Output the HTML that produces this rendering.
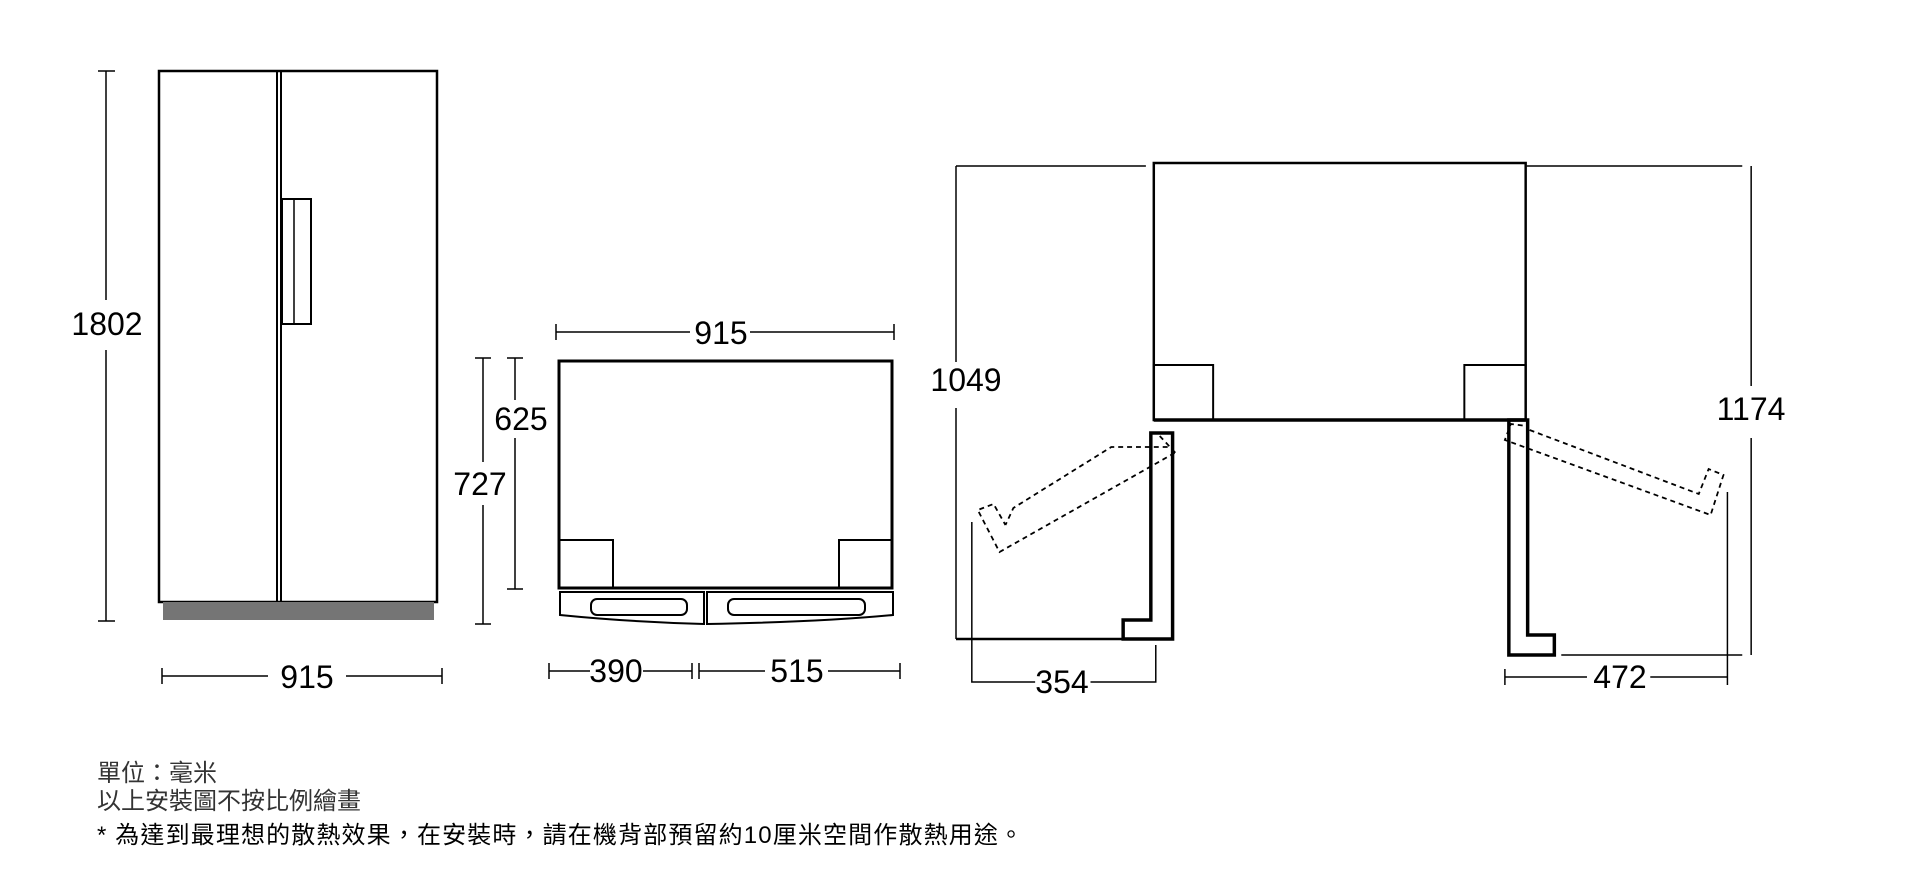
<!DOCTYPE html>
<html><head><meta charset="utf-8"><style>
html,body{margin:0;padding:0;background:#fff;width:1919px;height:883px;overflow:hidden}
svg{display:block}
.n{font-family:"Liberation Sans",Arial,sans-serif;font-size:32px;fill:#000}
.c{font-family:"Liberation Sans","Noto Sans CJK TC",sans-serif;font-size:24px}
</style></head><body>
<svg width="1919" height="883" viewBox="0 0 1919 883" xmlns="http://www.w3.org/2000/svg">
<g fill="none" stroke="#000">
<rect x="159" y="71" width="278" height="531" stroke-width="2.5"/>
<line x1="277" y1="71" x2="277" y2="602" stroke-width="2"/>
<line x1="281" y1="71" x2="281" y2="602" stroke-width="2"/>
<rect x="282" y="199" width="29" height="125" stroke-width="2"/>
<line x1="294" y1="199" x2="294" y2="324" stroke-width="1.5"/>
<line x1="106" y1="71" x2="106" y2="300" stroke-width="1.5"/>
<line x1="106" y1="350" x2="106" y2="621" stroke-width="1.5"/>
<line x1="98" y1="71" x2="115" y2="71" stroke-width="1.5"/>
<line x1="98" y1="621" x2="115" y2="621" stroke-width="1.5"/>
<line x1="162" y1="676" x2="268" y2="676" stroke-width="1.5"/>
<line x1="346" y1="676" x2="442" y2="676" stroke-width="1.5"/>
<line x1="162" y1="668" x2="162" y2="684" stroke-width="1.5"/>
<line x1="442" y1="668" x2="442" y2="684" stroke-width="1.5"/>
<rect x="559" y="361" width="333" height="227" stroke-width="3"/>
<rect x="559" y="540" width="54" height="48" stroke-width="2"/>
<rect x="839" y="540" width="53" height="48" stroke-width="2"/>
<path d="M560 592 H704 V624 Q630 622 560 615 Z" stroke-width="2"/>
<path d="M707 592 H893 V615 Q820 622 707 624 Z" stroke-width="2"/>
<rect x="591" y="599" width="96" height="16" rx="6" stroke-width="2"/>
<rect x="728" y="599" width="137" height="16" rx="6" stroke-width="2"/>
<line x1="556" y1="332" x2="690" y2="332" stroke-width="1.5"/>
<line x1="750" y1="332" x2="894" y2="332" stroke-width="1.5"/>
<line x1="556" y1="324" x2="556" y2="340" stroke-width="1.5"/>
<line x1="894" y1="324" x2="894" y2="340" stroke-width="1.5"/>
<line x1="515" y1="358" x2="515" y2="400" stroke-width="1.5"/>
<line x1="515" y1="438" x2="515" y2="589" stroke-width="1.5"/>
<line x1="507" y1="358" x2="523" y2="358" stroke-width="1.5"/>
<line x1="507" y1="589" x2="523" y2="589" stroke-width="1.5"/>
<line x1="483" y1="358" x2="483" y2="462" stroke-width="1.5"/>
<line x1="483" y1="505" x2="483" y2="624" stroke-width="1.5"/>
<line x1="475" y1="358" x2="491" y2="358" stroke-width="1.5"/>
<line x1="475" y1="624" x2="491" y2="624" stroke-width="1.5"/>
<line x1="549" y1="671" x2="590" y2="671" stroke-width="1.5"/>
<line x1="643" y1="671" x2="692" y2="671" stroke-width="1.5"/>
<line x1="699" y1="671" x2="765" y2="671" stroke-width="1.5"/>
<line x1="828" y1="671" x2="900" y2="671" stroke-width="1.5"/>
<line x1="549" y1="663" x2="549" y2="679" stroke-width="1.5"/>
<line x1="692" y1="663" x2="692" y2="679" stroke-width="1.5"/>
<line x1="699" y1="663" x2="699" y2="679" stroke-width="1.5"/>
<line x1="900" y1="663" x2="900" y2="679" stroke-width="1.5"/>
<g transform="translate(956,-2) scale(0.989,1) translate(-956,0)">
<rect x="1156" y="165" width="376" height="257" stroke-width="2.5"/>
<line x1="1156" y1="422" x2="1532" y2="422" stroke-width="3.5"/>
<rect x="1156" y="367" width="60" height="55" stroke-width="2"/>
<rect x="1470" y="367" width="62" height="55" stroke-width="2"/>
<line x1="956" y1="168" x2="1148" y2="168" stroke-width="1.5"/>
<line x1="1533" y1="168" x2="1751" y2="168" stroke-width="1.5"/>
<line x1="956" y1="168" x2="956" y2="364" stroke-width="1.5"/>
<line x1="956" y1="410" x2="956" y2="641" stroke-width="1.5"/>
<line x1="956" y1="641" x2="1175" y2="641" stroke-width="2.5"/>
<polygon points="1153,435 1175,435 1175,641 1125,641 1125,622 1153,622" stroke-width="3.5"/>
<polygon points="1515,422 1534,422 1534,637 1561,637 1561,657 1515,657" stroke-width="3.5"/>
<line x1="1568" y1="657" x2="1751" y2="657" stroke-width="1.5"/>
<line x1="1760" y1="168" x2="1760" y2="388" stroke-width="1.5"/>
<line x1="1760" y1="440" x2="1760" y2="657" stroke-width="1.5"/>
<polyline points="972,524 972,684 1036,684" stroke-width="1.5"/>
<polyline points="1092,684 1158,684 1158,647" stroke-width="1.5"/>
<line x1="1511" y1="679" x2="1594" y2="679" stroke-width="1.5"/>
<line x1="1658" y1="679" x2="1736" y2="679" stroke-width="1.5"/>
<line x1="1511" y1="671" x2="1511" y2="687" stroke-width="1.5"/>
<line x1="1736" y1="494" x2="1736" y2="687" stroke-width="1.5"/>
<g stroke-dasharray="5,4" stroke-width="1.8">
<polyline points="1170,449 1113,449 1014,510 1006,527"/>
<polyline points="1177,455 1000,554 978,512 994,506 1006,527"/>
<line x1="1162" y1="438" x2="1178" y2="455"/>
<polyline points="1536,432 1707,496 1717,471 1732,477 1719,517 1511,442 1517,426 1533,428"/>
</g>
</g>
</g>
<rect x="163" y="602" width="271" height="18" fill="#757575"/>
<g class="n" text-anchor="middle">
<text x="107" y="335">1802</text>
<text x="307" y="688">915</text>
<text x="721" y="344">915</text>
<text x="521" y="430">625</text>
<text x="480" y="495">727</text>
<text x="616" y="682">390</text>
<text x="797" y="682">515</text>
<text x="966" y="391">1049</text>
<text x="1751" y="420">1174</text>
<text x="1062" y="693">354</text>
<text x="1620" y="688">472</text>
</g>
<g class="c">
<text x="97" y="781" fill="#333">單位：毫米</text>
<text x="97" y="809" fill="#333">以上安裝圖不按比例繪畫</text>
<text x="97" y="843" fill="#000" textLength="926" lengthAdjust="spacing">*  為達到最理想的散熱效果，在安裝時，請在機背部預留約10厘米空間作散熱用途。</text>
</g>
</svg>
</body></html>
